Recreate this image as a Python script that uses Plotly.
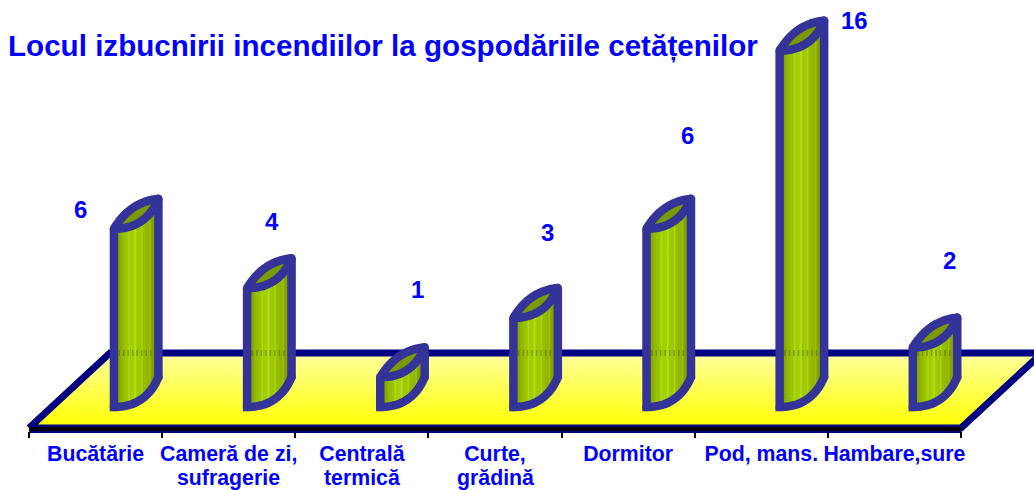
import plotly.graph_objects as go

TITLE = "Locul izbucnirii incendiilor la gospodăriile cetățenilor"
categories = ["Bucătărie", "Cameră de zi,", "Centrală", "Curte,", "Dormitor", "Pod, mans.", "Hambare,sure"]
categories_line2 = ["", "sufragerie", "termică", "grădină", "", "", ""]
values = [6, 4, 1, 3, 6, 16, 2]
AXIS_MAX = 12  # the tall bar is cut off by the axis maximum

# ---- layout constants (pixels of the 1034x490 canvas)
W, H = 1034, 490
PL, PR = 29, 961
BASE_PX, UNIT_PX = 407, 29.7
CAT_PX = (PR - PL) / 7


def dy(px):
    return (BASE_PX - px) / UNIT_PX


def dx(px):
    return (px - PL) / CAT_PX - 0.5


LABEL_X_PX = [80, 272, 417, 547, 687, 854, 949]
LABEL_Y_PX = [209, 221, 289, 232, 135, 20, 260]
STROKE = "#333399"
NAVY = "#000080"
BLUE = "#0000FF"
DEPTH = 30 / UNIT_PX
LEFT, RIGHT = 0.138, 0.472
STROKE_W = 8.5

STRIPES = [(0.0, "#7A9A00"), (0.12, "#86A800"), (0.2, "#93BC00"), (0.3, "#9CC800"), (0.34, "#B0D820"),
           (0.37, "#9FCC00"), (0.45, "#A4D400"), (0.48, "#B8DC30"), (0.51, "#A0CC00"), (0.6, "#9CC800"),
           (0.63, "#B0D420"), (0.66, "#98C000"), (0.78, "#8FB400"), (0.81, "#A0C010"), (0.84, "#86A600"),
           (1.0, "#769400")]


def quad(p0, c, p1, n=24):
    xs, ys = [], []
    for k in range(n + 1):
        t = k / n
        xs.append((1 - t) ** 2 * p0[0] + 2 * t * (1 - t) * c[0] + t ** 2 * p1[0])
        ys.append((1 - t) ** 2 * p0[1] + 2 * t * (1 - t) * c[1] + t ** 2 * p1[1])
    return xs, ys


def lower_arc(i, v):
    w = RIGHT - LEFT
    return quad((i + LEFT, v), (i + LEFT + 0.72 * w, v), (i + RIGHT, v + DEPTH))


def upper_arc(i, v):
    w = RIGHT - LEFT
    return quad((i + LEFT, v), (i + LEFT + 0.36 * w, v + 0.9 * DEPTH), (i + RIGHT, v + DEPTH))


fig = go.Figure()

# floor
floor_x = [dx(29), dx(110), dx(1042), dx(961), dx(29)]
floor_y = [dy(428), dy(353), dy(353), dy(428), dy(428)]
fig.add_trace(go.Scatter(
    x=floor_x, y=floor_y, mode="lines", fill="toself", hoverinfo="skip",
    line=dict(color=NAVY, width=7),
    fillgradient=dict(type="vertical", colorscale=[[0, "#FFFF00"], [1, "#FFFFA0"]]),
))
# front edge with the axis line on it
fig.add_trace(go.Scatter(
    x=[-0.5, 6.5], y=[dy(429), dy(429)], mode="lines", hoverinfo="skip",
    line=dict(color=NAVY, width=8),
))
fig.add_trace(go.Scatter(
    x=[-0.5, 6.5], y=[dy(429), dy(429)], mode="lines", hoverinfo="skip",
    line=dict(color="black", width=4),
))

for i, raw in enumerate(values):
    v = min(raw, AXIS_MAX)
    lx, ly = lower_arc(i, v)
    bx, by = lower_arc(i, 0)
    ux, uy = upper_arc(i, v)
    fig.add_trace(go.Scatter(
        x=lx + bx[::-1] + [lx[0]], y=ly + by[::-1] + [ly[0]], mode="lines", fill="toself",
        hoverinfo="skip", line=dict(width=0, color=STROKE, simplify=False),
        fillgradient=dict(type="horizontal", colorscale=[[p, c] for p, c in STRIPES]),
    ))
    if v >= 2:
        fig.add_trace(go.Scatter(
            x=[i + LEFT, i + RIGHT], y=[dy(353), dy(353)], mode="lines",
            hoverinfo="skip", opacity=0.35, line=dict(color="#304000", width=6, dash="1.5px,3px"),
        ))
    fig.add_trace(go.Scatter(
        x=ux + lx[::-1], y=uy + ly[::-1], mode="lines", fill="toself",
        hoverinfo="skip", fillcolor="#7A9A00", line=dict(color=STROKE, width=STROKE_W, simplify=False),
    ))
    fig.add_trace(go.Scatter(
        x=[i + LEFT] + bx + [i + RIGHT], y=[v] + by + [v + DEPTH], mode="lines",
        hoverinfo="skip", line=dict(color=STROKE, width=STROKE_W, simplify=False),
    ))
    # round joins at the four corners
    fig.add_trace(go.Scatter(
        x=[i + LEFT, i + RIGHT, i + LEFT, i + RIGHT], y=[v, v + DEPTH, 0, DEPTH], mode="markers",
        hoverinfo="skip", marker=dict(color=STROKE, size=STROKE_W, line=dict(width=0)),
    ))

annotations = [
    dict(x=dx(px), y=dy(py), xref="x", yref="y", text="<b>" + str(raw) + "</b>", showarrow=False,
         xanchor="center", yanchor="middle", font=dict(size=24, color=BLUE))
    for raw, px, py in zip(values, LABEL_X_PX, LABEL_Y_PX)
] + [
    dict(x=i, y=1 - 478 / H, xref="x", yref="paper", text="<b>" + t + "</b>", showarrow=False,
         xanchor="center", yanchor="middle", font=dict(size=21.3, color=BLUE))
    for i, t in enumerate(categories_line2) if t
]

fig.update_layout(
    width=W, height=H, showlegend=False, paper_bgcolor="white", plot_bgcolor="white",
    margin=dict(l=0, r=0, t=0, b=0, autoexpand=False),
    font=dict(family="Liberation Sans, Arial, sans-serif", color=BLUE),
    title=dict(text="<b>" + TITLE + "</b>", x=8 / W, xref="paper", xanchor="left",
               y=1 - 46 / H, yref="container", yanchor="middle",
               font=dict(size=29.6, color=BLUE, family="Liberation Sans")),
    annotations=annotations,
    xaxis=dict(range=[dx(0), dx(W)], anchor="free", position=(H - 431) / H, domain=[0, 1],
               showgrid=False, zeroline=False, showline=False, tickmode="array",
               tickvals=list(range(7)), ticktext=["<b>" + c + "</b>" for c in categories],
               ticks="", tickangle=0, tickfont=dict(size=21.3, color=BLUE), ticklabelstandoff=8,
               minor=dict(tickmode="linear", tick0=-0.5, dtick=1, ticks="outside", ticklen=6,
                          tickcolor="black", tickwidth=2, showgrid=False)),
    yaxis=dict(range=[dy(H), dy(0)], visible=False, domain=[0, 1]),
)

fig.write_html("out.html", config={"displayModeBar": False},
               post_script="document.body.style.margin='0';")
